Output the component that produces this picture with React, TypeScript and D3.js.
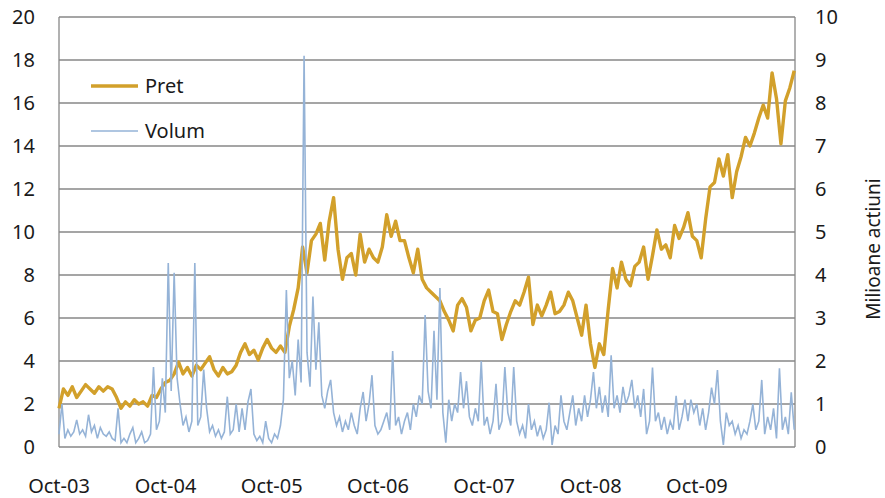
import React, { useRef, useEffect } from 'react';
import * as d3 from 'd3';

// pret: one value every half month from Oct 2003, volum (milioane) every third of a month
const START = new Date(2003, 9, 1);
const END = new Date(2010, 8, 3);
const PRET_STEP = 365.25 / 24;
const VOLUM_STEP = 365.25 / 36;

const pret = [
  1.8, 2.7, 2.4, 2.8, 2.3, 2.6, 2.9, 2.7, 2.5, 2.8, 2.6, 2.8, 2.7, 2.3, 1.8, 2.1, 1.9, 2.2, 2.0, 2.1,
  1.9, 2.4, 2.3, 2.7, 3.0, 3.1, 3.4, 3.95, 3.4, 3.7, 3.3, 3.8, 3.6, 3.9, 4.2, 3.6, 3.3, 3.7, 3.4, 3.5,
  3.8, 4.4, 4.8, 4.3, 4.5, 4.05, 4.6, 5.0, 4.6, 4.4, 4.7, 4.4, 5.6, 6.4, 7.4, 9.3, 8.1, 9.6, 9.9, 10.4,
  8.7, 10.5, 11.6, 9.2, 7.8, 8.8, 9.0, 8.0, 9.9, 8.6, 9.2, 8.8, 8.6, 9.3, 10.8, 9.8, 10.5, 9.6, 9.6, 8.8,
  8.1, 9.2, 7.8, 7.4, 7.2, 7.0, 6.8, 6.3, 5.9, 5.4, 6.6, 6.9, 6.5, 5.4, 5.9, 6.0, 6.8, 7.3, 6.3, 6.2,
  5.0, 5.7, 6.3, 6.8, 6.6, 7.2, 7.9, 5.7, 6.6, 6.1, 6.6, 7.2, 6.2, 6.3, 6.6, 7.2, 6.8, 6.0, 5.2, 6.6,
  4.8, 3.7, 4.8, 4.3, 6.4, 8.3, 7.4, 8.6, 7.8, 7.5, 8.4, 8.6, 9.3, 7.8, 8.9, 10.1, 9.2, 9.4, 8.8, 10.3,
  9.7, 10.2, 10.9, 9.8, 9.6, 8.8, 10.6, 12.1, 12.3, 13.4, 12.6, 13.6, 11.6, 12.8, 13.5, 14.4, 14.0, 14.6, 15.3, 15.9,
  15.3, 17.4, 16.2, 14.1, 16.1, 16.7, 17.5,
];

const volum = [
  0.3, 1.0, 0.2, 0.4, 0.25, 0.35, 0.63, 0.3, 0.4, 0.25, 0.75, 0.35, 0.5, 0.2, 0.45, 0.3, 0.25, 0.35, 0.2, 0.15,
  0.9, 0.1, 0.2, 0.1, 0.3, 0.45, 0.1, 0.2, 0.35, 0.1, 0.15, 0.3, 1.86, 0.4, 0.6, 1.6, 0.8, 4.28, 1.3, 4.05,
  1.6, 1.0, 0.5, 0.7, 0.35, 0.6, 4.28, 0.5, 0.7, 1.8, 0.9, 0.35, 0.5, 0.25, 0.4, 0.2, 0.35, 1.17, 0.3, 0.4,
  1.0, 0.35, 0.9, 0.4, 1.05, 1.35, 0.3, 0.15, 0.25, 0.1, 0.6, 0.2, 0.1, 0.3, 0.2, 0.5, 1.1, 3.65, 1.6, 2.0,
  1.2, 2.5, 1.5, 9.1, 2.2, 1.4, 3.5, 1.8, 2.9, 1.2, 0.9, 1.3, 1.56, 0.8, 0.5, 0.7, 0.35, 0.6, 0.4, 0.8,
  0.5, 0.3, 0.9, 1.28, 0.6, 1.0, 1.67, 0.5, 0.3, 0.4, 0.6, 0.8, 0.4, 2.23, 0.5, 0.7, 0.3, 0.6, 0.8, 0.4,
  1.0, 0.7, 1.2, 1.0, 3.07, 1.3, 0.9, 2.7, 1.1, 3.7, 0.8, 0.1, 1.1, 0.6, 1.0, 0.8, 1.74, 0.9, 1.53, 0.7,
  0.5, 0.9, 0.6, 2.0, 0.5, 0.7, 0.3, 0.6, 1.47, 0.4, 0.6, 1.86, 0.8, 0.5, 1.86, 0.6, 0.3, 0.5, 0.2, 1.0,
  0.4, 0.6, 0.25, 0.5, 0.2, 0.4, 1.03, 0.05, 0.5, 0.3, 1.2, 0.6, 0.4, 0.8, 1.2, 0.5, 0.9, 0.6, 1.2, 0.7,
  1.1, 1.74, 0.9, 1.4, 0.8, 1.2, 0.7, 2.13, 0.9, 1.2, 0.8, 1.4, 1.0, 1.2, 1.56, 0.9, 1.2, 0.7, 1.35, 0.3,
  0.6, 1.85, 0.6, 0.8, 0.4, 0.7, 0.3, 0.6, 0.4, 1.19, 0.4, 0.7, 1.1, 0.6, 1.1, 0.8, 1.0, 0.5, 0.9, 0.4,
  0.8, 1.38, 1.0, 1.79, 0.6, 0.05, 0.8, 0.5, 0.6, 0.3, 0.5, 0.2, 0.4, 0.3, 0.6, 1.0, 0.4, 0.6, 1.56, 0.3,
  0.7, 0.4, 0.9, 0.2, 1.83, 0.4, 0.7, 0.3, 1.27, 0.4,
];

const leftTicks = [0, 2, 4, 6, 8, 10, 12, 14, 16, 18, 20];
const rightTicks = [0, 1, 2, 3, 4, 5, 6, 7, 8, 9, 10];
const tickYears = [2003, 2004, 2005, 2006, 2007, 2008, 2009];
const seriesNames = ['Pret', 'Volum'];
const rightTitle = 'Milioane actiuni';

const W = 885;
const H = 498;
const FONT = '"Noto Sans", "Open Sans", sans-serif';
const PRET_COLOR = '#D2A02B';
const VOLUM_COLOR = '#95B3D7';
const GRID = '#878787';
const TEXT = '#1a1a1a';

const Chart = () => {
  const svgRef = useRef(null);

  useEffect(() => {
    const svg = d3.select(svgRef.current);
    svg.selectAll('*').remove();

    const margin = { top: 17, right: 90, bottom: 51, left: 59 };
    const w = W - margin.left - margin.right;
    const h = H - margin.top - margin.bottom;

    const x = d3.scaleTime().domain([START, END]).range([0, w]);
    const yL = d3.scaleLinear().domain([0, 20]).range([h, 0]);
    const yR = d3.scaleLinear().domain([0, 10]).range([h, 0]);

    const pretDates = pret.map((_, i) => d3.timeHour.offset(START, Math.round(i * PRET_STEP * 24)));
    const volumDates = volum.map((_, i) => d3.timeHour.offset(START, Math.round(i * VOLUM_STEP * 24)));

    const g = svg.append('g').attr('transform', `translate(${margin.left},${margin.top})`);

    // horizontal grid
    g.append('g')
      .selectAll('line')
      .data(leftTicks)
      .enter().append('line')
      .attr('x1', 0).attr('x2', w)
      .attr('y1', d => yL(d)).attr('y2', d => yL(d))
      .attr('stroke', GRID).attr('stroke-width', 1.3);

    // plot frame sides
    g.append('line').attr('x1', 0).attr('x2', 0).attr('y1', 0).attr('y2', h)
      .attr('stroke', GRID).attr('stroke-width', 1.3);
    g.append('line').attr('x1', w).attr('x2', w).attr('y1', 0).attr('y2', h)
      .attr('stroke', GRID).attr('stroke-width', 1.3);

    // left axis labels
    g.append('g')
      .selectAll('text')
      .data(leftTicks)
      .enter().append('text')
      .attr('x', -24).attr('y', d => yL(d))
      .attr('dy', '0.35em')
      .attr('text-anchor', 'end')
      .attr('fill', TEXT)
      .style('font-family', FONT).style('font-size', '20px')
      .text(d => d);

    // right axis labels
    g.append('g')
      .selectAll('text')
      .data(rightTicks)
      .enter().append('text')
      .attr('x', w + 20).attr('y', d => yR(d))
      .attr('dy', '0.35em')
      .attr('fill', TEXT)
      .style('font-family', FONT).style('font-size', '20px')
      .text(d => d);

    // x labels
    const fmt = d3.timeFormat('%b-%y');
    g.append('g')
      .selectAll('text')
      .data(tickYears.map(yr => new Date(yr, 9, 1)))
      .enter().append('text')
      .attr('x', d => x(d)).attr('y', h + 46)
      .attr('text-anchor', 'middle')
      .attr('fill', TEXT)
      .style('font-family', FONT).style('font-size', '20px')
      .text(d => fmt(d));

    // right title
    g.append('text')
      .attr('transform', `translate(${w + 85},${yR(5) + 17}) rotate(-90)`)
      .attr('text-anchor', 'middle')
      .attr('fill', TEXT)
      .style('font-family', FONT).style('font-size', '19px')
      .text(rightTitle);

    const linePret = d3.line().x((d, i) => x(pretDates[i])).y(d => yL(d));
    const lineVolum = d3.line().x((d, i) => x(volumDates[i])).y(d => yR(d));

    g.append('path')
      .datum(pret)
      .attr('fill', 'none')
      .attr('stroke', PRET_COLOR)
      .attr('stroke-width', 3.4)
      .attr('stroke-linejoin', 'round')
      .attr('d', linePret);

    g.append('path')
      .datum(volum)
      .attr('fill', 'none')
      .attr('stroke', VOLUM_COLOR)
      .attr('stroke-width', 1.6)
      .attr('d', lineVolum);

    // legend
    const leg = g.append('g').attr('transform', 'translate(32,69)');
    seriesNames.forEach((name, i) => {
      const row = leg.append('g').attr('transform', `translate(0,${i * 45})`);
      row.append('line').attr('x1', 0).attr('x2', 47).attr('y1', 0).attr('y2', 0)
        .attr('stroke', i === 0 ? PRET_COLOR : VOLUM_COLOR)
        .attr('stroke-width', i === 0 ? 3.5 : 1.4);
      row.append('text').attr('x', 54).attr('y', 0).attr('dy', '0.35em')
        .attr('fill', TEXT)
        .style('font-family', FONT).style('font-size', '20px')
        .text(name);
    });
  }, []);

  return <svg ref={svgRef} width={W} height={H} style={{ display: 'block', background: '#fff' }} />;
};

export default function App() {
  return (
    <div style={{ position: 'absolute', left: 0, top: 0, width: W, height: H, background: '#fff' }}>
      <Chart />
    </div>
  );
}
